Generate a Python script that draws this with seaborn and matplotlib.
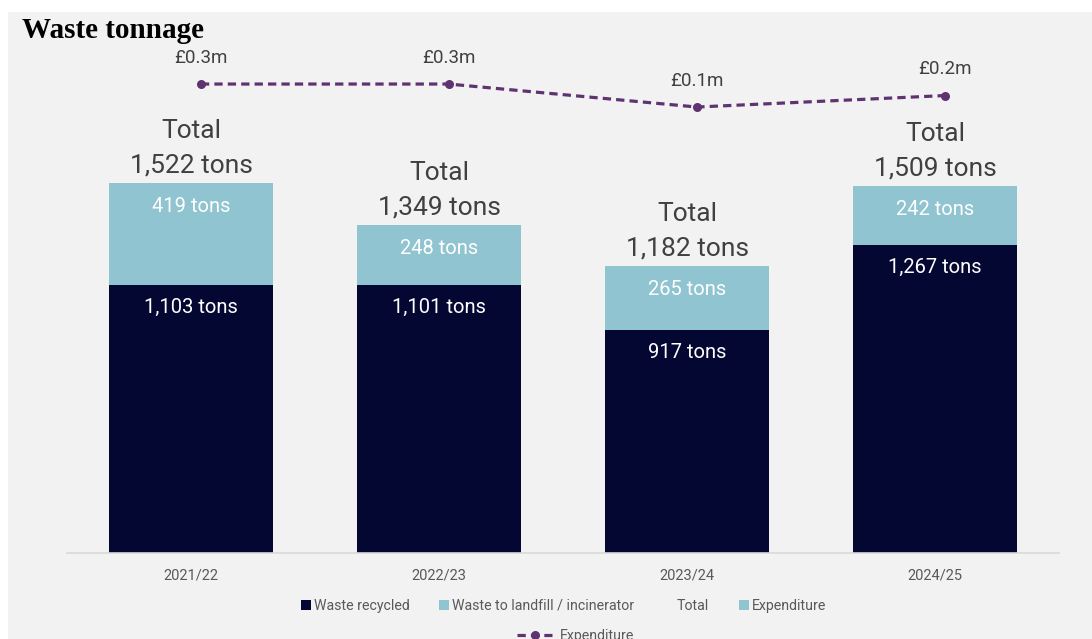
import numpy as np
import pandas as pd
import matplotlib.pyplot as plt
import seaborn as sns
from matplotlib.patches import Patch, Rectangle
from matplotlib.lines import Line2D

years = ['2021/22', '2022/23', '2023/24', '2024/25']
recycled = [1103, 1101, 917, 1267]
landfill = [419, 248, 265, 242]
expenditure = [0.3, 0.3, 0.1, 0.2]
expenditure_labels = ['£0.3m', '£0.3m', '£0.1m', '£0.2m']

NAVY = '#050733'
LIGHT = '#90C4D0'
PURPLE = '#5E3370'
GREY_TXT = '#404040'

sns.set_style('white')
plt.rcParams['font.family'] = ['Roboto', 'DejaVu Sans']

df = pd.DataFrame({'year': years, 'recycled': recycled, 'landfill': landfill})
df['total'] = df['recycled'] + df['landfill']

fig = plt.figure(figsize=(10.92, 6.39), dpi=100, facecolor='white')
fig.patches.append(Rectangle((8 / 1092, 0), 1, 1 - 12 / 639, transform=fig.transFigure,
                             facecolor='#F2F2F2', edgecolor='none', zorder=-10))

ax = fig.add_axes([67 / 1092, 86 / 639, 992 / 1092, 513 / 639])
ax.set_facecolor('none')

# stacked bars: total (light) behind, recycled (navy) in front
sns.barplot(data=df, x='year', y='total', color=LIGHT, width=0.665, saturation=1,
            errorbar=None, linewidth=0, ax=ax)
sns.barplot(data=df, x='year', y='recycled', color=NAVY, width=0.665, saturation=1,
            errorbar=None, linewidth=0, ax=ax)

ax.set_ylim(0, 2110)
ax.set_xlim(-0.5, 3.5)
ax.set_xlabel('')
ax.set_ylabel('')
ax.set_yticks([])
for s in ['top', 'right', 'left']:
    ax.spines[s].set_visible(False)
ax.spines['bottom'].set_color('#D9D9D9')
ax.spines['bottom'].set_linewidth(1.2)
ax.tick_params(axis='x', length=0, labelsize=10.5, labelcolor='#595959', pad=11)

for i, row in df.iterrows():
    ax.annotate(f"Total\n{row['total']:,} tons", (i, row['total']), xytext=(0, 4),
                textcoords='offset points', ha='center', va='bottom', fontsize=19,
                color=GREY_TXT, linespacing=1.55)
    ax.annotate(f"{row['landfill']:,} tons", (i, row['total']), xytext=(0, -17),
                textcoords='offset points', ha='center', va='center', fontsize=14.5,
                color='white')
    ax.annotate(f"{row['recycled']:,} tons", (i, row['recycled']), xytext=(0, -16),
                textcoords='offset points', ha='center', va='center', fontsize=14.5,
                color='white')

# expenditure line on a secondary axis
ax2 = ax.twinx()
xpos = np.arange(len(years)) + 0.04
sns.lineplot(x=xpos, y=expenditure, ax=ax2, color=PURPLE, linewidth=2.3,
             linestyle=(0, (2.6, 1.6)), marker='o', markersize=6.5, markeredgewidth=0)
ax2.set_ylim(-3.778, 0.683)
ax2.set_xlim(-0.5, 3.5)
ax2.axis('off')
for x, v, lab in zip(xpos, expenditure, expenditure_labels):
    ax2.annotate(lab, (x, v), xytext=(0, 19), textcoords='offset points', ha='center',
                 va='center', fontsize=13.5, color=GREY_TXT)

fig.text(22 / 1092, 1 - 30 / 639, 'Waste tonnage', fontsize=21, fontweight='bold',
         family='Liberation Serif', va='center', ha='left', color='black')

handles = [Patch(facecolor=NAVY, edgecolor='none'),
           Patch(facecolor=LIGHT, edgecolor='none'),
           Patch(facecolor='none', edgecolor='none'),
           Patch(facecolor=LIGHT, edgecolor='none')]
labels = ['Waste recycled', 'Waste to landfill / incinerator', 'Total', 'Expenditure']
fig.legend(handles, labels, loc='center', bbox_to_anchor=(0.516, 33 / 639), ncol=4,
           frameon=False, handlelength=0.7, handleheight=0.7, handletextpad=0.2,
           columnspacing=2.1, fontsize=10.2, labelcolor='#595959')
line_handle = Line2D([], [], color=PURPLE, linewidth=2.3, linestyle=(0, (2.6, 1.6)),
                     marker='o', markersize=6.5, markeredgewidth=0)
fig.legend([line_handle], ['Expenditure'], loc='center', bbox_to_anchor=(0.527, 3 / 639),
           frameon=False, handlelength=2.5, handletextpad=0.5, fontsize=10.2,
           labelcolor='#595959')

plt.savefig('out.png', dpi=100, facecolor=fig.get_facecolor())
